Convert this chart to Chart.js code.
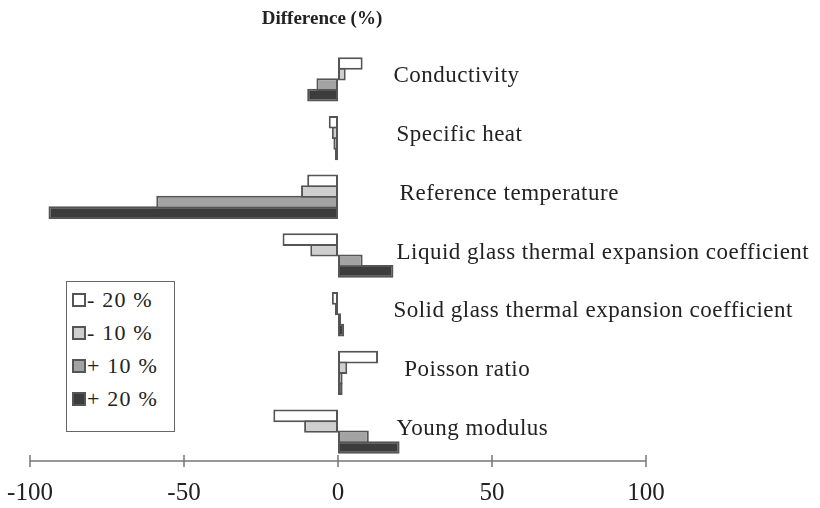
<!DOCTYPE html>
<html>
<head>
<meta charset="utf-8">
<script src="https://cdn.jsdelivr.net/npm/chart.js@4.4.1/dist/chart.umd.min.js"></script>
<style>
  body { margin: 0; background: #fff; }
  #wrap { position: relative; width: 820px; height: 508px; }
  #legend {
    position: absolute; left: 66px; top: 281px; width: 109px; height: 151px;
    border: 1px solid #666; box-sizing: border-box; background: #fff;
    font-family: "Liberation Serif", serif; font-size: 22px; color: #222;
    padding: 0 0 0 5px; letter-spacing: 1.2px;
  }
  #legend div { height: 33px; line-height: 32px; white-space: nowrap; margin-top: 0; }
  #legend div:first-child { margin-top: 2px; }
  #legend span.box {
    display: inline-block; width: 10px; height: 10px; border: 2px solid #555;
    vertical-align: 0px; margin-right: 1px;
  }
</style>
</head>
<body>
<div id="wrap">
  <canvas id="chart" width="820" height="508"></canvas>
  <div id="legend"></div>
</div>
<script>
var categories = ["Conductivity", "Specific heat", "Reference temperature",
    "Liquid glass thermal expansion coefficient", "Solid glass thermal expansion coefficient",
    "Poisson ratio", "Young modulus"];
var seriesNames = ["- 20 %", "- 10 %", "+ 10 %", "+ 20 %"];
var minus20 = [8, -3, -10, -18, -2, 13, -21];
var minus10 = [2.5, -2, -12, -9, -1, 3, -11];
var plus10 = [-7, -1.5, -59, 8, 1, 1.5, 10];
var plus20 = [-10, -1, -94, 18, 2, 1.5, 20];
// where the category name starts, in axis units
var labelAt = [18, 19, 20, 19, 18, 21.5, 19];
var xTicks = [-100, -50, 0, 50, 100];

var fills = ["#ffffff", "#cfcfcf", "#a3a3a3", "#3c3c3c"];
var series = [minus20, minus10, plus10, plus20];

var legendHtml = "";
for (var i = 0; i < seriesNames.length; i++) {
    legendHtml += '<div><span class="box" style="background:' + fills[i] + '"></span>' + seriesNames[i] + '</div>';
}
document.getElementById("legend").innerHTML = legendHtml;

let sidePlugin = {
    id: "side",
    afterDraw: function(chart) {
        var ctx = chart.ctx;
        var xs = chart.scales.x;
        var ys = chart.scales.y;
        ctx.save();
        // axis line with ticks crossing it
        var yAxis = chart.chartArea.bottom;
        ctx.strokeStyle = "#777";
        ctx.lineWidth = 1.5;
        ctx.beginPath();
        ctx.moveTo(xs.getPixelForValue(-100), yAxis);
        ctx.lineTo(xs.getPixelForValue(100), yAxis);
        xTicks.forEach(function(t) {
            var px = xs.getPixelForValue(t);
            ctx.moveTo(px, yAxis - 6);
            ctx.lineTo(px, yAxis + 6);
        });
        ctx.stroke();
        // category names
        ctx.fillStyle = "#222";
        ctx.font = "23px 'Liberation Serif'";
        ctx.letterSpacing = "0.5px";
        ctx.textBaseline = "middle";
        ctx.textAlign = "left";
        categories.forEach(function(c, i) {
            ctx.fillText(c, xs.getPixelForValue(labelAt[i]), ys.getPixelForValue(i) - 3);
        });
        // title
        ctx.letterSpacing = "0px";
        ctx.font = "bold 19px 'Liberation Serif'";
        ctx.textAlign = "center";
        ctx.fillText("Difference (%)", 322, 19);
        ctx.restore();
    }
};

var ctx = document.getElementById("chart").getContext("2d");
var myChart = new Chart(ctx, {
    type: "bar",
    data: {
        labels: categories,
        datasets: series.map(function(d, i) {
            return {
                label: seriesNames[i],
                data: d,
                backgroundColor: fills[i],
                borderColor: "#555",
                borderWidth: 2,
                borderSkipped: false,
                barPercentage: 1.2,
                categoryPercentage: 0.72
            };
        })
    },
    options: {
        indexAxis: "y",
        responsive: false,
        animation: false,
        layout: { padding: { left: 30, right: 174, top: 50, bottom: 0 } },
        plugins: { legend: { display: false }, tooltip: { enabled: false } },
        scales: {
            x: {
                min: -100, max: 100,
                afterBuildTicks: function(scale) {
                    scale.ticks = xTicks.map(function(v) { return { value: v }; });
                },
                afterFit: function(scale) {
                    scale.height = 47;
                    scale.paddingLeft = 0;
                    scale.paddingRight = 0;
                },
                grid: { display: false, drawTicks: false },
                border: { display: false },
                ticks: {
                    padding: 17,
                    color: "#222",
                    font: { family: "Liberation Serif", size: 25 }
                }
            },
            y: { display: false }
        }
    },
    plugins: [sidePlugin]
});
</script>
</body>
</html>
